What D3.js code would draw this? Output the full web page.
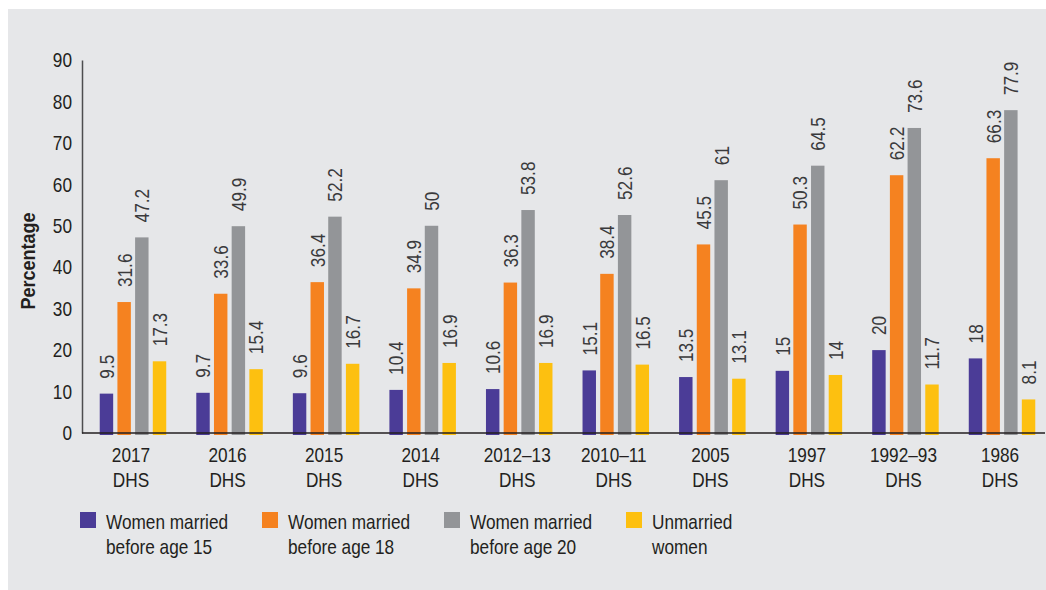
<!DOCTYPE html>
<html>
<head>
<meta charset="utf-8">
<script src="https://cdn.jsdelivr.net/npm/d3@7"></script>
<style>
  body { margin: 0; background: #fff; }
  svg text { font-family: "Liberation Sans", Arial, sans-serif; }
</style>
</head>
<body>
<script>
var w = 1046,
    h = 590;

// data
var surveys = ["2017", "2016", "2015", "2014", "2012\u201313", "2010\u201311", "2005", "1997", "1992\u201393", "1986"];
var seriesNames = ["before15", "before18", "before20", "unmarried"];
var before15 = [9.5, 9.7, 9.6, 10.4, 10.6, 15.1, 13.5, 15, 20, 18];
var before18 = [31.6, 33.6, 36.4, 34.9, 36.3, 38.4, 45.5, 50.3, 62.2, 66.3];
var before20 = [47.2, 49.9, 52.2, 50, 53.8, 52.6, 61, 64.5, 73.6, 77.9];
var unmarried = [17.3, 15.4, 16.7, 16.9, 16.9, 16.5, 13.1, 14, 11.7, 8.1];
var yTicks = [0, 10, 20, 30, 40, 50, 60, 70, 80, 90];
var legendLabels = [
    ["Women married", "before age 15"],
    ["Women married", "before age 18"],
    ["Women married", "before age 20"],
    ["Unmarried", "women"]
];

var colors = {
    before15: "#4b3c97",
    before18: "#f58220",
    before20: "#939598",
    unmarried: "#fdc010"
};

// no narrow font installed, so squeeze the regular one
var narrow = "scale(0.82,1)";
var fs = 21;

var table = surveys.map(function(s, i) {
    return {
        survey: s,
        before15: before15[i],
        before18: before18[i],
        before20: before20[i],
        unmarried: unmarried[i]
    };
});

var axisX = 82;

var x0 = d3.scaleBand()
    .domain(surveys)
    .range([84.7, 1050.3]);

var x1 = d3.scaleBand()
    .domain(seriesNames)
    .range([0, 66.5])
    .paddingInner(0.24);

var y = d3.scaleLinear()
    .domain([0, 90])
    .range([433, 60]);

var svg = d3.select("body").append("svg")
    .attr("width", w)
    .attr("height", h);

svg.append("rect")
    .attr("x", 8)
    .attr("y", 9)
    .attr("width", w - 8)
    .attr("height", h - 9)
    .attr("fill", "#e6e7e9");

// bars
var groups = svg.selectAll(".grp")
    .data(table)
    .enter().append("g")
    .attr("class", "grp")
    .attr("transform", function(d) {
        return "translate(" + (x0(d.survey) + (x0.bandwidth() - 66.5) / 2) + ",0)";
    });

var cells = groups.selectAll(".cell")
    .data(function(d) {
        return seriesNames.map(function(k) { return { key: k, value: d[k] }; });
    })
    .enter().append("g")
    .attr("class", "cell");

cells.append("rect")
    .attr("x", function(d) { return x1(d.key); })
    .attr("y", function(d) { return y(d.value); })
    .attr("width", x1.bandwidth())
    .attr("height", function(d) { return y(0) - y(d.value) + 2; })
    .attr("fill", function(d) { return colors[d.key]; });

cells.append("text")
    .attr("transform", function(d) {
        return "translate(" + (x1(d.key) + x1.bandwidth() / 2) + "," + (y(d.value) - 15) + ") rotate(-90) " + narrow;
    })
    .attr("dy", "0.35em")
    .attr("font-size", fs)
    .attr("fill", "#3a3a3c")
    .text(function(d) { return d.value; });

// y axis
var yAxis = svg.append("g")
    .attr("transform", "translate(" + axisX + ",0)")
    .call(d3.axisLeft(y).tickValues(yTicks).tickSize(0).tickSizeOuter(0));

yAxis.select(".domain")
    .attr("stroke", "#4d4d4f")
    .attr("stroke-width", 1.5);

yAxis.selectAll(".tick text")
    .attr("x", 0)
    .attr("transform", "translate(-10,0) " + narrow)
    .attr("font-size", fs)
    .attr("fill", "#231f20");

// x axis
var xAxis = svg.append("g")
    .attr("transform", "translate(0," + y(0) + ")")
    .call(d3.axisBottom(x0).tickSize(0).tickSizeOuter(0));

xAxis.select(".domain")
    .attr("d", "M" + axisX + ",0H" + (w - 1))
    .attr("stroke", "#231f20")
    .attr("stroke-width", 1.5);

xAxis.selectAll(".tick text").each(function(d) {
    var t = d3.select(this);
    t.text(null)
        .attr("y", 0)
        .attr("dy", null)
        .attr("transform", "translate(-2,0) " + narrow)
        .attr("font-size", fs)
        .attr("fill", "#231f20");
    t.append("tspan").attr("x", 0).attr("y", 29).text(d);
    t.append("tspan").attr("x", 0).attr("y", 54).text("DHS");
});

svg.append("text")
    .attr("transform", "translate(35,261) rotate(-90) scale(0.9,1)")
    .attr("text-anchor", "middle")
    .attr("font-size", 20)
    .attr("font-weight", "bold")
    .attr("fill", "#231f20")
    .text("Percentage");

// legend
var legend = svg.selectAll(".legend")
    .data(seriesNames)
    .enter().append("g")
    .attr("class", "legend")
    .attr("transform", function(d, i) { return "translate(" + (80 + i * 182) + ",512)"; });

legend.append("rect")
    .attr("width", 16)
    .attr("height", 16)
    .attr("fill", function(d) { return colors[d]; });

var ltext = legend.append("text")
    .attr("transform", "translate(26,0) " + narrow)
    .attr("font-size", fs)
    .attr("fill", "#231f20");

ltext.append("tspan")
    .attr("x", 0)
    .attr("y", 17)
    .text(function(d, i) { return legendLabels[i][0]; });

ltext.append("tspan")
    .attr("x", 0)
    .attr("y", 42)
    .text(function(d, i) { return legendLabels[i][1]; });
</script>
</body>
</html>
